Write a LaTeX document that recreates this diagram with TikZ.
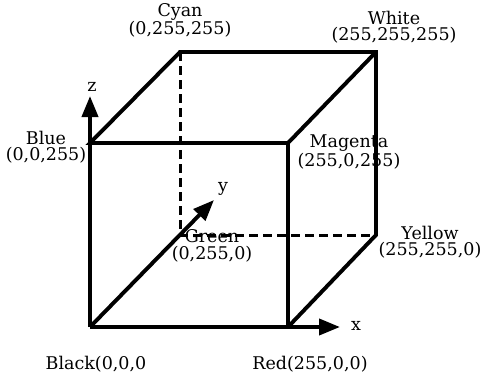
\documentclass[tikz,border=0pt]{standalone}
\usepackage{fontspec}
\setmainfont{DejaVu Serif}
\usetikzlibrary{arrows.meta}
\begin{document}
\begin{tikzpicture}[x=1pt,y=-1pt,
  edge/.style={line width=3.9pt},
  hidden/.style={line width=3pt,dash pattern=on 9pt off 5pt},
  axis/.style={line width=3.9pt,-{Triangle[length=21pt,width=16pt]}},
  lbl/.style={font=\fontsize{17.5}{16.5}\selectfont,align=center,inner sep=0pt},
]
\useasboundingbox (0,0) rectangle (482,380);
% corners
\coordinate (K) at (90,327);   % Black
\coordinate (R) at (288,327);  % Red
\coordinate (M) at (288,143);  % Magenta
\coordinate (B) at (90,143);   % Blue
\coordinate (G) at (180,235);  % Green
\coordinate (Y) at (376,235);  % Yellow
\coordinate (W) at (376,52);   % White
\coordinate (C) at (180,52);   % Cyan
% axis tips
\coordinate (xt) at (340,327);
\coordinate (zt) at (90,96);
\coordinate (yt) at (214,200);
% hidden edges
\draw[hidden] (C) -- (G) -- (Y);
% visible edges
\draw[edge] (K) -- (R) -- (M) -- (B) -- (C) -- (W) -- (Y) -- (R);
\draw[edge] (W) -- (M);
% axes
\draw[axis] (K) -- (zt);
\draw[axis] (R) -- (xt);
\draw[axis] (K) -- (yt);
% labels
\node[lbl] (lz) at (92,87) {z};
\node[lbl] (lx) at (356,326) {x};
\node[lbl] (ly) at (223,189) {y};
\node[lbl] (lc) at (180,20) {Cyan\\(0,255,255)};
\node[lbl] (lw) at (394,27) {White\\(255,255,255)};
\node[lbl] (lb) at (46,147) {Blue\\(0,0,255)};
\node[lbl] (lm) at (349,152) {Magenta\\(255,0,255)};
\node[lbl] (lyl) at (430,242) {Yellow\\(255,255,0)};
\node[lbl] (lg) at (212,246) {Green\\(0,255,0)};
\node[lbl] (lk) at (96,364) {Black(0,0,0};
\node[lbl] (lr) at (310,364) {Red(255,0,0)};
\end{tikzpicture}
\end{document}
